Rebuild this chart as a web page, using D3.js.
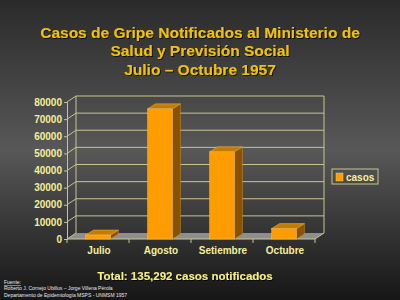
<!DOCTYPE html>
<meta charset="utf-8">
<style>
body { margin: 0; background: #1a1a1a; }
svg { display: block; }
.ylab text, .xlab text { font-family: "Liberation Sans", Arial, sans-serif; font-weight: bold; font-size: 10px; fill: #f4f09a; }
.title { font-family: "Liberation Sans", Arial, sans-serif; font-weight: bold; font-size: 15.5px; fill: #f2c200; }
.total { font-family: "Liberation Sans", Arial, sans-serif; font-weight: bold; font-size: 11.5px; fill: #f6f07e; }
.foot { font-family: "Liberation Sans", Arial, sans-serif; font-size: 5px; fill: #e8e8e8; }
</style>
<body>
<svg id="svg" width="400" height="300"></svg>
<script src="https://cdnjs.cloudflare.com/ajax/libs/d3/7.8.5/d3.min.js"></script>
<script>

var months = ["Julio", "Agosto", "Setiembre", "Octubre"];
var casos = [2300, 76000, 50900, 6092];
var yTicks = [0, 10000, 20000, 30000, 40000, 50000, 60000, 70000, 80000];
var titleLines = ["Casos de Gripe Notificados al Ministerio de", "Salud y Previsión Social", "Julio – Octubre 1957"];
var totalText = "Total: 135,292 casos notificados";
var footLines = ["Fuente:", "Roberto J. Cornejo Ubillus – Jorge Villena Pérola", "Departamento de Epidemiología MSPS - UNMSM 1957"];

var svg = d3.select("svg");

// background gradient
var defs = svg.append("defs");
var grad = defs.append("linearGradient").attr("id", "bg").attr("x1", 0).attr("y1", 0).attr("x2", 0).attr("y2", 1);
grad.append("stop").attr("offset", "0%").attr("stop-color", "#2a2a2a");
grad.append("stop").attr("offset", "50%").attr("stop-color", "#585858");
grad.append("stop").attr("offset", "100%").attr("stop-color", "#161616");
svg.append("rect").attr("width", 400).attr("height", 300).attr("fill", "url(#bg)");

var shadow = defs.append("filter").attr("id", "sh");
shadow.append("feDropShadow").attr("dx", 1).attr("dy", 1).attr("stdDeviation", 0.4).attr("flood-color", "#000").attr("flood-opacity", 0.8);

// title
svg.append("g").selectAll("text")
  .data(titleLines)
  .enter().append("text")
    .attr("class", "title")
    .attr("x", 200)
    .attr("y", function(d, i) { return 37.5 + i * 18.5; })
    .attr("text-anchor", "middle")
    .attr("filter", "url(#sh)")
    .text(function(d) { return d; });

// plot geometry (front plane)
var pLeft = 67, pRight = 315, pBottom = 239, pTop = 102;
var dx = 9, dy = -6;     // wall depth
var bdx = 8, bdy = -5;   // bar depth
var wallCol = "#c8c48e";

var x = d3.scaleBand().domain(months).range([pLeft, pRight]).paddingInner(0.6).paddingOuter(0.3);
var slot = d3.scaleBand().domain(months).range([pLeft, pRight]);
var y = d3.scaleLinear().domain([0, 80000]).range([pBottom, pTop]);

var g = svg.append("g");

// floor
g.append("path")
    .attr("d", "M" + pLeft + "," + pBottom + "L" + pRight + "," + pBottom + "L" + (pRight + dx) + "," + (pBottom + dy) + "L" + (pLeft + dx) + "," + (pBottom + dy) + "Z")
    .attr("fill", "#8e8e8e");

// back wall gridlines
g.selectAll(".grid")
  .data(yTicks.slice(1))
  .enter().append("line")
    .attr("x1", pLeft + dx).attr("x2", pRight + dx)
    .attr("y1", function(d) { return y(d) + dy; })
    .attr("y2", function(d) { return y(d) + dy; })
    .attr("stroke", wallCol).attr("stroke-width", 1);

// side wall lines
g.selectAll(".side")
  .data(yTicks)
  .enter().append("line")
    .attr("x1", pLeft).attr("x2", pLeft + dx)
    .attr("y1", function(d) { return y(d); })
    .attr("y2", function(d) { return y(d) + dy; })
    .attr("stroke", wallCol).attr("stroke-width", 1);

// wall edges
g.append("line").attr("x1", pLeft + dx).attr("x2", pLeft + dx).attr("y1", y(80000) + dy).attr("y2", pBottom + dy).attr("stroke", wallCol);
g.append("line").attr("x1", pRight + dx).attr("x2", pRight + dx).attr("y1", y(80000) + dy).attr("y2", pBottom + dy).attr("stroke", wallCol);
g.append("line").attr("x1", pRight).attr("x2", pRight + dx).attr("y1", pBottom).attr("y2", pBottom + dy).attr("stroke", wallCol);

// y axis
g.append("g")
    .attr("class", "ylab")
    .attr("transform", "translate(" + pLeft + ",0)")
    .call(d3.axisLeft(y).tickValues(yTicks).tickSize(3).tickPadding(2).tickFormat(d3.format("d")))
    .call(function(a) {
      a.selectAll("line").attr("stroke", wallCol);
      a.select(".domain").attr("stroke", wallCol);
    });

// x axis ticks at slot boundaries
g.selectAll(".xt")
  .data(months.concat(["end"]))
  .enter().append("line")
    .attr("x1", function(d, i) { return pLeft + i * slot.step(); })
    .attr("x2", function(d, i) { return pLeft + i * slot.step(); })
    .attr("y1", pBottom).attr("y2", pBottom + 4)
    .attr("stroke", wallCol);
g.append("line").attr("x1", pLeft).attr("x2", pRight).attr("y1", pBottom).attr("y2", pBottom).attr("stroke", wallCol);

g.append("g").attr("class", "xlab").selectAll("text")
  .data(months)
  .enter().append("text")
    .attr("x", function(d) { return slot(d) + slot.bandwidth() / 2 + 1; })
    .attr("y", 254)
    .attr("text-anchor", "middle")
    .text(function(d) { return d; });

// bars
var bars = g.selectAll(".bar")
  .data(months.map(function(m, i) { return {m: m, v: casos[i]}; }))
  .enter().append("g");

bars.append("path")
    .attr("d", function(d) {
      var x0 = x(d.m), x1 = x0 + x.bandwidth(), yv = y(d.v);
      return "M" + x1 + "," + yv + "L" + (x1 + bdx) + "," + (yv + bdy) + "L" + (x1 + bdx) + "," + (pBottom + bdy) + "L" + x1 + "," + pBottom + "Z";
    })
    .attr("fill", "#8a5200").attr("stroke", "#c89a3a").attr("stroke-width", 0.5);

bars.append("path")
    .attr("d", function(d) {
      var x0 = x(d.m), x1 = x0 + x.bandwidth(), yv = y(d.v);
      return "M" + x0 + "," + yv + "L" + (x0 + bdx) + "," + (yv + bdy) + "L" + (x1 + bdx) + "," + (yv + bdy) + "L" + x1 + "," + yv + "Z";
    })
    .attr("fill", "#c47c00").attr("stroke", "#e8b850").attr("stroke-width", 0.5);

bars.append("rect")
    .attr("x", function(d) { return x(d.m); })
    .attr("y", function(d) { return y(d.v); })
    .attr("width", x.bandwidth())
    .attr("height", function(d) { return pBottom - y(d.v); })
    .attr("fill", "#ff9c00").attr("stroke", "#f0c060").attr("stroke-width", 0.5);

// legend
var lg = svg.append("g").attr("transform", "translate(332,169)");
lg.append("rect").attr("width", 46).attr("height", 15).attr("fill", "none").attr("stroke", wallCol);
lg.append("rect").attr("x", 4).attr("y", 4).attr("width", 7).attr("height", 8).attr("fill", "#ff9c00").attr("stroke", "#f0d070").attr("stroke-width", 0.5);
lg.append("text").attr("x", 14).attr("y", 11.5)
    .style("font-family", "'Liberation Sans', Arial, sans-serif").style("font-weight", "bold").style("font-size", "10px").style("fill", "#f4f09a")
    .text("casos");

// total
svg.append("text").attr("class", "total").attr("x", 185).attr("y", 280).attr("text-anchor", "middle")
    .attr("filter", "url(#sh)").text(totalText);

// footer
svg.append("g").selectAll("text")
  .data(footLines)
  .enter().append("text")
    .attr("class", "foot")
    .attr("x", 4)
    .attr("y", function(d, i) { return 284 + i * 6.3; })
    .style("text-decoration", function(d, i) { return i === 0 ? "underline" : null; })
    .text(function(d) { return d; });

</script>
</body>
